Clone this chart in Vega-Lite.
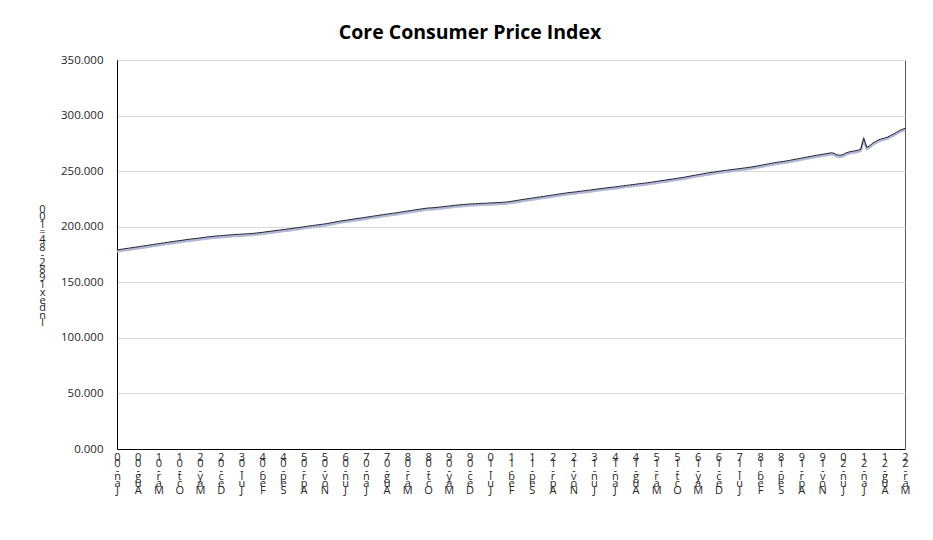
{
"$schema": "https://vega.github.io/schema/vega-lite/v6.json",
"width": 788, "height": 389,
"autosize": {"type": "none"},
"padding": {"left": 117, "top": 60, "right": 28, "bottom": 91},
"background": "white",
"title": {"text": "Core Consumer Price Index", "font": "Open Sans", "fontSize": 19.5, "fontWeight": "bold", "color": "#000000", "anchor": "middle", "dx": -41, "offset": 11},
"config": {"view": {"stroke": "#595959", "strokeWidth": 1}},
"data": {"values": [
{"date":"2000-01-01","cpi":179.1},{"date":"2000-02-01","cpi":179.5},{"date":"2000-03-01","cpi":179.9},{"date":"2000-04-01","cpi":180.3},{"date":"2000-05-01","cpi":180.7},{"date":"2000-06-01","cpi":181.1},{"date":"2000-07-01","cpi":181.5},{"date":"2000-08-01","cpi":181.9},{"date":"2000-09-01","cpi":182.3},{"date":"2000-10-01","cpi":182.7},{"date":"2000-11-01","cpi":183.1},{"date":"2000-12-01","cpi":183.5},
{"date":"2001-01-01","cpi":183.9},{"date":"2001-02-01","cpi":184.3},{"date":"2001-03-01","cpi":184.7},{"date":"2001-04-01","cpi":185.1},{"date":"2001-05-01","cpi":185.5},{"date":"2001-06-01","cpi":185.9},{"date":"2001-07-01","cpi":186.3},{"date":"2001-08-01","cpi":186.7},{"date":"2001-09-01","cpi":187.1},{"date":"2001-10-01","cpi":187.4},{"date":"2001-11-01","cpi":187.8},{"date":"2001-12-01","cpi":188.2},
{"date":"2002-01-01","cpi":188.6},{"date":"2002-02-01","cpi":188.9},{"date":"2002-03-01","cpi":189.2},{"date":"2002-04-01","cpi":189.5},{"date":"2002-05-01","cpi":189.9},{"date":"2002-06-01","cpi":190.2},{"date":"2002-07-01","cpi":190.6},{"date":"2002-08-01","cpi":190.9},{"date":"2002-09-01","cpi":191.2},{"date":"2002-10-01","cpi":191.5},{"date":"2002-11-01","cpi":191.7},{"date":"2002-12-01","cpi":191.9},
{"date":"2003-01-01","cpi":192.2},{"date":"2003-02-01","cpi":192.4},{"date":"2003-03-01","cpi":192.6},{"date":"2003-04-01","cpi":192.8},{"date":"2003-05-01","cpi":193.0},{"date":"2003-06-01","cpi":193.1},{"date":"2003-07-01","cpi":193.3},{"date":"2003-08-01","cpi":193.5},{"date":"2003-09-01","cpi":193.6},{"date":"2003-10-01","cpi":193.8},{"date":"2003-11-01","cpi":194.0},{"date":"2003-12-01","cpi":194.3},
{"date":"2004-01-01","cpi":194.6},{"date":"2004-02-01","cpi":194.9},{"date":"2004-03-01","cpi":195.3},{"date":"2004-04-01","cpi":195.6},{"date":"2004-05-01","cpi":196.0},{"date":"2004-06-01","cpi":196.3},{"date":"2004-07-01","cpi":196.7},{"date":"2004-08-01","cpi":197.0},{"date":"2004-09-01","cpi":197.4},{"date":"2004-10-01","cpi":197.7},{"date":"2004-11-01","cpi":198.0},{"date":"2004-12-01","cpi":198.4},
{"date":"2005-01-01","cpi":198.8},{"date":"2005-02-01","cpi":199.1},{"date":"2005-03-01","cpi":199.5},{"date":"2005-04-01","cpi":199.9},{"date":"2005-05-01","cpi":200.3},{"date":"2005-06-01","cpi":200.7},{"date":"2005-07-01","cpi":201.0},{"date":"2005-08-01","cpi":201.4},{"date":"2005-09-01","cpi":201.8},{"date":"2005-10-01","cpi":202.1},{"date":"2005-11-01","cpi":202.5},{"date":"2005-12-01","cpi":202.9},
{"date":"2006-01-01","cpi":203.4},{"date":"2006-02-01","cpi":203.9},{"date":"2006-03-01","cpi":204.4},{"date":"2006-04-01","cpi":204.9},{"date":"2006-05-01","cpi":205.3},{"date":"2006-06-01","cpi":205.7},{"date":"2006-07-01","cpi":206.1},{"date":"2006-08-01","cpi":206.5},{"date":"2006-09-01","cpi":206.9},{"date":"2006-10-01","cpi":207.3},{"date":"2006-11-01","cpi":207.7},{"date":"2006-12-01","cpi":208.0},
{"date":"2007-01-01","cpi":208.5},{"date":"2007-02-01","cpi":208.9},{"date":"2007-03-01","cpi":209.3},{"date":"2007-04-01","cpi":209.7},{"date":"2007-05-01","cpi":210.1},{"date":"2007-06-01","cpi":210.5},{"date":"2007-07-01","cpi":210.9},{"date":"2007-08-01","cpi":211.3},{"date":"2007-09-01","cpi":211.7},{"date":"2007-10-01","cpi":212.0},{"date":"2007-11-01","cpi":212.4},{"date":"2007-12-01","cpi":212.8},
{"date":"2008-01-01","cpi":213.3},{"date":"2008-02-01","cpi":213.7},{"date":"2008-03-01","cpi":214.1},{"date":"2008-04-01","cpi":214.5},{"date":"2008-05-01","cpi":214.9},{"date":"2008-06-01","cpi":215.3},{"date":"2008-07-01","cpi":215.7},{"date":"2008-08-01","cpi":216.1},{"date":"2008-09-01","cpi":216.5},{"date":"2008-10-01","cpi":216.8},{"date":"2008-11-01","cpi":217.0},{"date":"2008-12-01","cpi":217.1},
{"date":"2009-01-01","cpi":217.4},{"date":"2009-02-01","cpi":217.7},{"date":"2009-03-01","cpi":218.0},{"date":"2009-04-01","cpi":218.3},{"date":"2009-05-01","cpi":218.6},{"date":"2009-06-01","cpi":218.9},{"date":"2009-07-01","cpi":219.2},{"date":"2009-08-01","cpi":219.5},{"date":"2009-09-01","cpi":219.8},{"date":"2009-10-01","cpi":220.0},{"date":"2009-11-01","cpi":220.2},{"date":"2009-12-01","cpi":220.4},
{"date":"2010-01-01","cpi":220.6},{"date":"2010-02-01","cpi":220.7},{"date":"2010-03-01","cpi":220.8},{"date":"2010-04-01","cpi":221.0},{"date":"2010-05-01","cpi":221.1},{"date":"2010-06-01","cpi":221.2},{"date":"2010-07-01","cpi":221.4},{"date":"2010-08-01","cpi":221.5},{"date":"2010-09-01","cpi":221.6},{"date":"2010-10-01","cpi":221.8},{"date":"2010-11-01","cpi":221.9},{"date":"2010-12-01","cpi":222.1},
{"date":"2011-01-01","cpi":222.4},{"date":"2011-02-01","cpi":222.8},{"date":"2011-03-01","cpi":223.2},{"date":"2011-04-01","cpi":223.6},{"date":"2011-05-01","cpi":224.1},{"date":"2011-06-01","cpi":224.5},{"date":"2011-07-01","cpi":224.9},{"date":"2011-08-01","cpi":225.3},{"date":"2011-09-01","cpi":225.7},{"date":"2011-10-01","cpi":226.1},{"date":"2011-11-01","cpi":226.5},{"date":"2011-12-01","cpi":226.9},
{"date":"2012-01-01","cpi":227.3},{"date":"2012-02-01","cpi":227.7},{"date":"2012-03-01","cpi":228.1},{"date":"2012-04-01","cpi":228.5},{"date":"2012-05-01","cpi":228.9},{"date":"2012-06-01","cpi":229.3},{"date":"2012-07-01","cpi":229.7},{"date":"2012-08-01","cpi":230.1},{"date":"2012-09-01","cpi":230.5},{"date":"2012-10-01","cpi":230.8},{"date":"2012-11-01","cpi":231.1},{"date":"2012-12-01","cpi":231.4},
{"date":"2013-01-01","cpi":231.8},{"date":"2013-02-01","cpi":232.1},{"date":"2013-03-01","cpi":232.4},{"date":"2013-04-01","cpi":232.8},{"date":"2013-05-01","cpi":233.1},{"date":"2013-06-01","cpi":233.5},{"date":"2013-07-01","cpi":233.9},{"date":"2013-08-01","cpi":234.2},{"date":"2013-09-01","cpi":234.5},{"date":"2013-10-01","cpi":234.9},{"date":"2013-11-01","cpi":235.2},{"date":"2013-12-01","cpi":235.5},
{"date":"2014-01-01","cpi":235.8},{"date":"2014-02-01","cpi":236.1},{"date":"2014-03-01","cpi":236.5},{"date":"2014-04-01","cpi":236.8},{"date":"2014-05-01","cpi":237.2},{"date":"2014-06-01","cpi":237.5},{"date":"2014-07-01","cpi":237.9},{"date":"2014-08-01","cpi":238.2},{"date":"2014-09-01","cpi":238.6},{"date":"2014-10-01","cpi":238.9},{"date":"2014-11-01","cpi":239.2},{"date":"2014-12-01","cpi":239.5},
{"date":"2015-01-01","cpi":239.9},{"date":"2015-02-01","cpi":240.3},{"date":"2015-03-01","cpi":240.7},{"date":"2015-04-01","cpi":241.1},{"date":"2015-05-01","cpi":241.5},{"date":"2015-06-01","cpi":241.9},{"date":"2015-07-01","cpi":242.3},{"date":"2015-08-01","cpi":242.7},{"date":"2015-09-01","cpi":243.1},{"date":"2015-10-01","cpi":243.5},{"date":"2015-11-01","cpi":243.9},{"date":"2015-12-01","cpi":244.3},
{"date":"2016-01-01","cpi":244.8},{"date":"2016-02-01","cpi":245.3},{"date":"2016-03-01","cpi":245.8},{"date":"2016-04-01","cpi":246.3},{"date":"2016-05-01","cpi":246.8},{"date":"2016-06-01","cpi":247.3},{"date":"2016-07-01","cpi":247.7},{"date":"2016-08-01","cpi":248.2},{"date":"2016-09-01","cpi":248.6},{"date":"2016-10-01","cpi":249.0},{"date":"2016-11-01","cpi":249.4},{"date":"2016-12-01","cpi":249.8},
{"date":"2017-01-01","cpi":250.2},{"date":"2017-02-01","cpi":250.6},{"date":"2017-03-01","cpi":250.9},{"date":"2017-04-01","cpi":251.2},{"date":"2017-05-01","cpi":251.5},{"date":"2017-06-01","cpi":251.9},{"date":"2017-07-01","cpi":252.2},{"date":"2017-08-01","cpi":252.6},{"date":"2017-09-01","cpi":252.9},{"date":"2017-10-01","cpi":253.3},{"date":"2017-11-01","cpi":253.7},{"date":"2017-12-01","cpi":254.1},
{"date":"2018-01-01","cpi":254.6},{"date":"2018-02-01","cpi":255.1},{"date":"2018-03-01","cpi":255.6},{"date":"2018-04-01","cpi":256.1},{"date":"2018-05-01","cpi":256.6},{"date":"2018-06-01","cpi":257.1},{"date":"2018-07-01","cpi":257.6},{"date":"2018-08-01","cpi":258.0},{"date":"2018-09-01","cpi":258.4},{"date":"2018-10-01","cpi":258.8},{"date":"2018-11-01","cpi":259.2},{"date":"2018-12-01","cpi":259.7},
{"date":"2019-01-01","cpi":260.2},{"date":"2019-02-01","cpi":260.7},{"date":"2019-03-01","cpi":261.2},{"date":"2019-04-01","cpi":261.7},{"date":"2019-05-01","cpi":262.2},{"date":"2019-06-01","cpi":262.7},{"date":"2019-07-01","cpi":263.2},{"date":"2019-08-01","cpi":263.7},{"date":"2019-09-01","cpi":264.2},{"date":"2019-10-01","cpi":264.6},{"date":"2019-11-01","cpi":265.1},{"date":"2019-12-01","cpi":265.5},
{"date":"2020-01-01","cpi":266.0},{"date":"2020-02-01","cpi":266.5},{"date":"2020-03-01","cpi":266.1},{"date":"2020-04-01","cpi":264.6},{"date":"2020-05-01","cpi":264.3},{"date":"2020-06-01","cpi":264.8},{"date":"2020-07-01","cpi":266.3},{"date":"2020-08-01","cpi":267.2},{"date":"2020-09-01","cpi":267.8},{"date":"2020-10-01","cpi":268.2},{"date":"2020-11-01","cpi":268.8},{"date":"2020-12-01","cpi":269.6},
{"date":"2021-01-01","cpi":279.5},{"date":"2021-02-01","cpi":271.4},{"date":"2021-03-01","cpi":272.6},{"date":"2021-04-01","cpi":275.0},{"date":"2021-05-01","cpi":276.6},{"date":"2021-06-01","cpi":278.1},{"date":"2021-07-01","cpi":279.0},{"date":"2021-08-01","cpi":279.7},{"date":"2021-09-01","cpi":280.6},{"date":"2021-10-01","cpi":282.0},{"date":"2021-11-01","cpi":283.3},{"date":"2021-12-01","cpi":284.8},
{"date":"2022-01-01","cpi":286.4},{"date":"2022-02-01","cpi":287.6},{"date":"2022-03-01","cpi":288.5}
]},
"encoding": {
  "x": {"field": "date", "type": "temporal",
    "scale": {"type": "utc", "domain": [{"year": 2000, "month": 1, "date": 1, "utc": true}, {"year": 2022, "month": 3, "date": 1, "utc": true}]},
    "axis": {
      "title": null,
      "values": [
        {"year":2000,"month":1,"date":1,"utc":true},{"year":2000,"month":8,"date":1,"utc":true},{"year":2001,"month":3,"date":1,"utc":true},{"year":2001,"month":10,"date":1,"utc":true},
        {"year":2002,"month":5,"date":1,"utc":true},{"year":2002,"month":12,"date":1,"utc":true},{"year":2003,"month":7,"date":1,"utc":true},{"year":2004,"month":2,"date":1,"utc":true},
        {"year":2004,"month":9,"date":1,"utc":true},{"year":2005,"month":4,"date":1,"utc":true},{"year":2005,"month":11,"date":1,"utc":true},{"year":2006,"month":6,"date":1,"utc":true},
        {"year":2007,"month":1,"date":1,"utc":true},{"year":2007,"month":8,"date":1,"utc":true},{"year":2008,"month":3,"date":1,"utc":true},{"year":2008,"month":10,"date":1,"utc":true},
        {"year":2009,"month":5,"date":1,"utc":true},{"year":2009,"month":12,"date":1,"utc":true},{"year":2010,"month":7,"date":1,"utc":true},{"year":2011,"month":2,"date":1,"utc":true},
        {"year":2011,"month":9,"date":1,"utc":true},{"year":2012,"month":4,"date":1,"utc":true},{"year":2012,"month":11,"date":1,"utc":true},{"year":2013,"month":6,"date":1,"utc":true},
        {"year":2014,"month":1,"date":1,"utc":true},{"year":2014,"month":8,"date":1,"utc":true},{"year":2015,"month":3,"date":1,"utc":true},{"year":2015,"month":10,"date":1,"utc":true},
        {"year":2016,"month":5,"date":1,"utc":true},{"year":2016,"month":12,"date":1,"utc":true},{"year":2017,"month":7,"date":1,"utc":true},{"year":2018,"month":2,"date":1,"utc":true},
        {"year":2018,"month":9,"date":1,"utc":true},{"year":2019,"month":4,"date":1,"utc":true},{"year":2019,"month":11,"date":1,"utc":true},{"year":2020,"month":6,"date":1,"utc":true},
        {"year":2021,"month":1,"date":1,"utc":true},{"year":2021,"month":8,"date":1,"utc":true},{"year":2022,"month":3,"date":1,"utc":true}
      ],
      "labelExpr": "reverse(split(utcFormat(datum.value, '%b-%y'), ''))",
      "labelAngle": 0, "labelAlign": "center", "labelBaseline": "top",
      "labelLineHeight": 6.6, "labelFontSize": 11, "labelFont": "Open Sans", "labelColor": "#262626",
      "labelPadding": 2, "labelOverlap": false, "labelBound": false, "labelFlush": false,
      "ticks": false, "grid": false, "domainColor": "#000000"
    }
  },
  "y": {"field": "cpi", "type": "quantitative",
    "scale": {"domain": [0, 350], "nice": false, "zero": true},
    "axis": {
      "values": [0, 50, 100, 150, 200, 250, 300, 350],
      "format": ".3f",
      "labelFont": "Open Sans", "labelFontSize": 11.5, "labelColor": "#262626", "labelPadding": 14,
      "ticks": false, "grid": true, "gridColor": "#d9d9d9", "domainColor": "#000000",
      "title": ["0","0","1","=","4","8","-","2","8","9","1"," ","x","e","d","n","I"],
      "titleAngle": 0, "titleAlign": "center", "titleBaseline": "top",
      "titleX": -75, "titleY": 143,
      "titleFont": "Open Sans", "titleFontSize": 11, "titleFontWeight": "normal",
      "titleLineHeight": 7.6, "titleColor": "#262626"
    }
  }
},
"layer": [
  {"mark": {"type": "line", "color": "#b3b7d6", "strokeWidth": 2.5, "yOffset": 1.5}},
  {"mark": {"type": "line", "color": "#1c1c30", "strokeWidth": 1}}
]
}
